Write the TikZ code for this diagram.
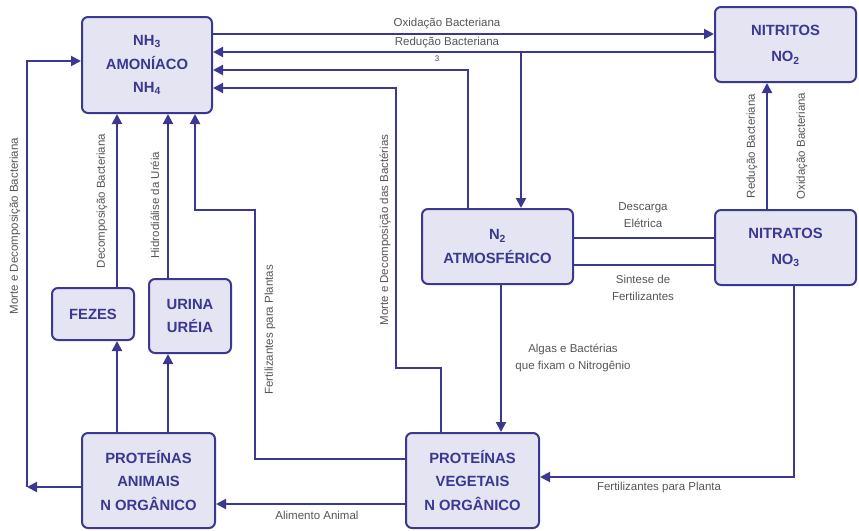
\documentclass[tikz,border=0pt]{standalone}
\usepackage{fontspec}
\setmainfont{Liberation Sans}
\usetikzlibrary{arrows.meta}
\definecolor{navy}{HTML}{3A3890}
\definecolor{boxfill}{HTML}{E5E4F3}
\definecolor{lbl}{HTML}{555555}
\begin{document}
\begin{tikzpicture}[x=1pt,y=-1pt,
  box/.style={draw=navy, line width=2pt, fill=boxfill, rounded corners=6pt, text=navy,
    font=\bfseries\fontsize{14.8}{23.5}\selectfont, align=center, inner sep=0pt},
  arr/.style={draw=navy, line width=2pt, -{Triangle[length=10pt,width=10pt]}},
  ln/.style={draw=navy, line width=2pt},
  lab/.style={text=lbl, font=\fontsize{11.5}{17}\selectfont, align=center, inner sep=0pt}]
\useasboundingbox (0,0) rectangle (859,530);

% boxes
\node[box, minimum width=130pt, minimum height=96pt] (nh3) at (147,65) {NH\textsubscript{3}\\AMONÍACO\\NH\textsubscript{4}};
\node[box, minimum width=141pt, minimum height=75pt] (nitritos) at (785.5,44.5) {NITRITOS\\[3pt]NO\textsubscript{2}};
\node[box, minimum width=141pt, minimum height=75pt] (nitratos) at (785.5,247.5) {NITRATOS\\[3pt]NO\textsubscript{3}};
\node[box, minimum width=151pt, minimum height=75pt] (n2) at (497.5,246.5) {N\textsubscript{2}\\ATMOSFÉRICO};
\node[box, minimum width=82pt, minimum height=52pt] (fezes) at (93,314) {FEZES};
\node[box, minimum width=82pt, minimum height=74pt] (urina) at (190,316) {URINA\\URÉIA};
\node[box, minimum width=133pt, minimum height=95pt] (pa) at (148.5,480.5) {PROTEÍNAS\\ANIMAIS\\N ORGÂNICO};
\node[box, minimum width=133pt, minimum height=95pt] (pv) at (472.5,480.5) {PROTEÍNAS\\VEGETAIS\\N ORGÂNICO};

% helper coordinates
\coordinate (p1) at (300,34);
\coordinate (p2) at (521,52);
\coordinate (p3) at (468,70);
\coordinate (p4a) at (441,368);
\coordinate (p4b) at (396,368);
\coordinate (p4c) at (396,88);
\coordinate (p5a) at (255,459);
\coordinate (p5b) at (255,210);
\coordinate (p5c) at (195,210);
\coordinate (p6) at (117,200);
\coordinate (p7) at (168,200);
\coordinate (p8a) at (27,487);
\coordinate (p8b) at (27,61);
\coordinate (p9) at (300,504);
\coordinate (p10) at (794,477);
\coordinate (p11) at (501,400);
\coordinate (p12) at (640,238);
\coordinate (p13) at (640,265);
\coordinate (p14) at (767,150);

% connectors
\draw[arr] (nh3.east |- p1) -- (nitritos.west |- p1);
\draw[arr] (nitritos.west |- p2) -- (nh3.east |- p2);
\draw[arr] (p2) -- (n2.north -| p2);
\draw[arr] (n2.north -| p3) -- (p3) -- (nh3.east |- p3);
\draw[arr] (pv.north -| p4a) -- (p4a) -- (p4b) -- (p4c) -- (nh3.east |- p4c);
\draw[arr] (pv.west |- p5a) -- (p5a) -- (p5b) -- (p5c) -- (nh3.south -| p5c);
\draw[arr] (fezes.north -| p6) -- (nh3.south -| p6);
\draw[arr] (pa.north -| p6) -- (fezes.south -| p6);
\draw[arr] (urina.north -| p7) -- (nh3.south -| p7);
\draw[arr] (pa.north -| p7) -- (urina.south -| p7);
\draw[arr] (pa.west |- p8a) -- (p8a);
\draw[arr] (p8a) -- (p8b) -- (nh3.west |- p8b);
\draw[arr] (pv.west |- p9) -- (pa.east |- p9);
\draw[arr] (nitratos.south -| p10) -- (p10) -- (pv.east |- p10);
\draw[arr] (n2.south -| p11) -- (pv.north -| p11);
\draw[ln] (n2.east |- p12) -- (nitratos.west |- p12);
\draw[ln] (n2.east |- p13) -- (nitratos.west |- p13);
\draw[arr] (nitratos.north -| p14) -- (nitritos.south -| p14);

% labels
\node[lab] (lOx) at (447,24) {Oxidação Bacteriana};
\node[lab] (lRed) at (447,43) {Redução Bacteriana};
\node[text=navy, font=\fontsize{8}{8}\selectfont, inner sep=0pt] (l3) at (437,59) {3};
\node[lab, rotate=90] (lMDB) at (15,226) {Morte e Decomposição Bacteriana};
\node[lab, rotate=90] (lDB) at (102,201) {Decomposição Bacteriana};
\node[lab, rotate=90] (lHU) at (155,205) {Hidrodiálise da Uréia};
\node[lab, rotate=90] (lFP) at (270,330) {Fertilizantes para Plantas};
\node[lab, rotate=90] (lMDD) at (385,230) {Morte e Decomposição das Bactérias};
\node[lab, rotate=90] (lRB) at (752,146) {Redução Bacteriana};
\node[lab, rotate=90] (lOB) at (802,146) {Oxidação Bacteriana};
\node[lab] (lDE) at (643,215) {Descarga\\Elétrica};
\node[lab] (lSF) at (643,288) {Sintese de\\Fertilizantes};
\node[lab] (lAB) at (573,358) {Algas e Bactérias\\que fixam o Nitrogênio};
\node[lab] (lAA) at (317,515) {Alimento Animal};
\node[lab] (lFPl) at (659,488) {Fertilizantes para Planta};
\end{tikzpicture}
\end{document}
